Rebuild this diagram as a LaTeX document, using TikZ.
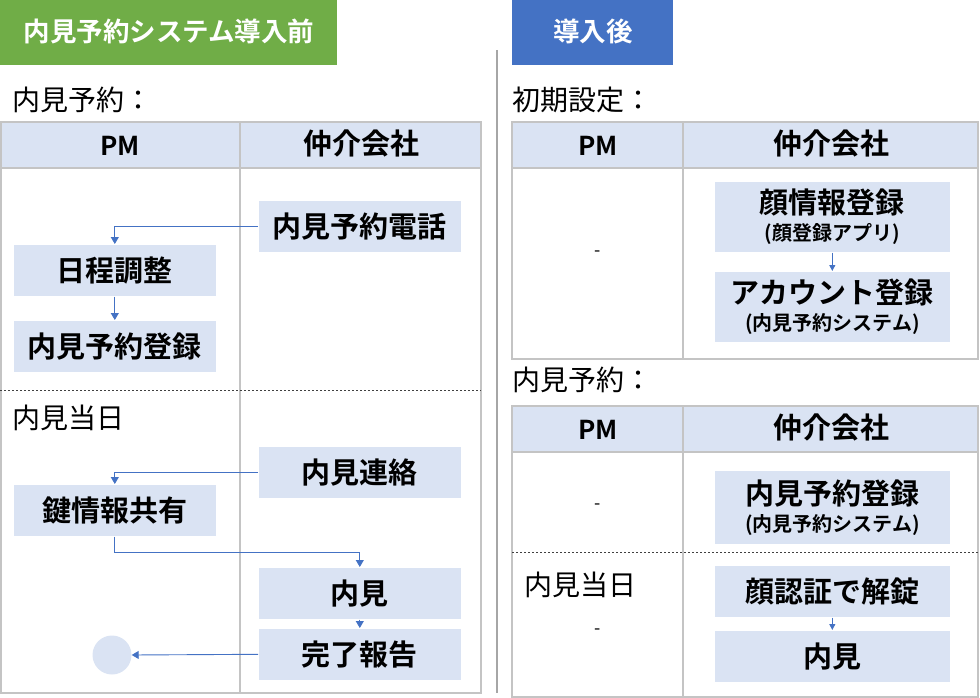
\documentclass[tikz,border=0pt]{standalone}
\usepackage{fontspec}
\setmainfont{Noto Sans CJK JP}[BoldFont={Noto Sans CJK JP Bold}]
\usetikzlibrary{arrows.meta}
\definecolor{grn}{HTML}{70AD47}
\definecolor{blu}{HTML}{4472C4}
\definecolor{lb}{HTML}{DAE3F3}
\definecolor{grid}{HTML}{C4C4C4}
\definecolor{sep}{HTML}{A6A6A6}
\newcommand{\subtxt}{\fontsize{20}{22}\selectfont}
\tikzset{
  x=1pt, y=-1pt,
  fbig/.style={font=\bfseries\fontsize{29}{31}\selectfont},
  lbox/.style={fill=lb, draw=white, line width=0.6pt, inner sep=0pt, minimum width=203pt, minimum height=52pt, anchor=north west, fbig},
  rbox/.style={fill=lb, draw=white, line width=0.6pt, inner sep=0pt, minimum width=236pt, anchor=north west, fbig, align=center},
  hdr/.style={font=\bfseries\fontsize{29}{31}\selectfont, inner sep=0pt},
  pmhdr/.style={font=\bfseries\fontsize{26}{28}\selectfont, inner sep=0pt},
  lbl/.style={font=\fontsize{28}{30}\selectfont, inner sep=0pt, anchor=west},
  dsh/.style={font=\fontsize{18}{20}\selectfont, inner sep=0pt},
  ttl/.style={font=\bfseries\fontsize{26.5}{28}\selectfont, text=white, inner sep=0pt},
  gridline/.style={draw=grid, line width=1.6pt},
  arr/.style={draw=blu, line width=0.9pt, -{Triangle[length=7pt,width=8pt]}},
  sarr/.style={draw=blu, line width=0.9pt, -{Triangle[length=6pt,width=6pt]}},
  dline/.style={draw=black!75, line width=0.7pt, dash pattern=on 2pt off 2pt},
}
\begin{document}
\begin{tikzpicture}
\useasboundingbox (0,0) rectangle (980,698);
% headers
\fill[grn] (0,0) rectangle (337,65);
\node[ttl] (t1) at (169,31) {内見予約システム導入前};
\fill[blu] (512,0) rectangle (673,65);
\node[ttl] (t2) at (593,31) {導入後};
% separator
\draw[draw=sep, line width=2pt] (497,50) -- (497,693);

% ---------- left table ----------
\node[lbl] (l1) at (12,100) {内見予約：};
\fill[lb] (1,122) rectangle (481,168);
\draw[gridline] (1,122) rectangle (481,693);
\draw[gridline] (1,168) -- (481,168);
\draw[gridline] (240,122) -- (240,693);
\draw[dline] (0,390) -- (481,390);
\node[pmhdr] (lpm) at (120,146) {PM};
\node[hdr] (lag) at (361,143) {仲介会社};
\node[lbl] (l2) at (12,418) {内見当日};

\node[lbox] (tel) at (258,200) {内見予約電話};
\node[lbox] (sched) at (13,244) {日程調整};
\node[lbox] (reg) at (13,320) {内見予約登録};
\node[lbox] (contact) at (258,446) {内見連絡};
\node[lbox] (key) at (13,484) {鍵情報共有};
\node[lbox] (visit) at (258,567) {内見};
\node[lbox] (done) at (258,628) {完了報告};
\node[circle, fill=lb, minimum size=39pt, inner sep=0pt] (end) at (112,655) {};

\draw[arr] (tel.west) -| (sched.north);
\draw[arr] (sched.south) -- (reg.north);
\draw[arr] (contact.west) -| (key.north);
\draw[arr] (key.south) -- ++(0,16) -| (visit.north);
\draw[arr] (visit.south) -- (done.north);
\draw[arr] (done.west) -- (end.east);

% ---------- right table 1 ----------
\node[lbl] (r1) at (512,100) {初期設定：};
\fill[lb] (512,122) rectangle (978,168);
\draw[gridline] (512,122) rectangle (978,359);
\draw[gridline] (512,168) -- (978,168);
\draw[gridline] (683,122) -- (683,359);
\node[pmhdr] (rpm1) at (598,146) {PM};
\node[hdr] (rag1) at (831,143) {仲介会社};
\node[dsh] (d1) at (598,254) {-};
\node[rbox, minimum height=71pt] (face) at (714,181) {顔情報登録\\[-4pt]{\subtxt (顔登録アプリ)}};
\node[rbox, minimum height=71pt] (acct) at (714,271) {アカウント登録\\[-4pt]{\subtxt (内見予約システム)}};
\draw[sarr] (face.south) -- (acct.north);

% ---------- right table 2 ----------
\node[lbl] (r2) at (512,380) {内見予約：};
\fill[lb] (512,406) rectangle (978,452);
\draw[gridline] (512,406) rectangle (978,697);
\draw[gridline] (512,452) -- (978,452);
\draw[gridline] (683,406) -- (683,697);
\draw[dline] (512,552) -- (978,552);
\node[pmhdr] (rpm2) at (598,430) {PM};
\node[hdr] (rag2) at (831,427) {仲介会社};
\node[dsh] (d2) at (598,507) {-};
\node[lbl] (r3) at (524,585) {内見当日};
\node[dsh] (d3) at (598,632) {-};
\node[rbox, minimum height=74pt] (reg2) at (714,470) {内見予約登録\\[-4pt]{\subtxt (内見予約システム)}};
\node[rbox, minimum height=52pt] (unlock) at (714,565) {顔認証で解錠};
\node[rbox, minimum height=52pt] (visit2) at (714,630) {内見};
\draw[sarr] (unlock.south) -- (visit2.north);
\end{tikzpicture}
\end{document}
